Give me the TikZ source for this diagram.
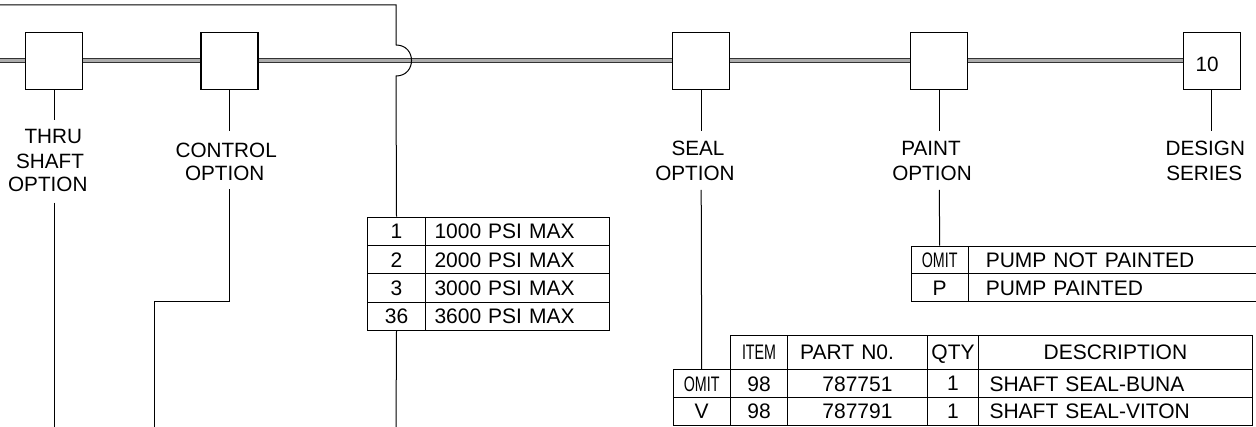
\documentclass[tikz,border=0pt]{standalone}
\usepackage{fontspec}
\setmainfont{Liberation Sans}
\usepackage{graphicx}
\newcommand\cnd[1]{\scalebox{0.68}[1]{#1}}
\begin{document}
\begin{tikzpicture}[x=1pt,y=-1pt,
  ln/.style={line width=1pt, draw=black},
  dbl/.style={draw=black!80, line width=1pt, double=gray!65, double distance=3pt},
  optbox/.style={draw, line width=1.1pt, fill=white, minimum width=57pt, minimum height=57pt, inner sep=0pt, font=\fontsize{20.7}{24}\selectfont},
  lbl/.style={inner sep=0pt, text depth=0pt, font=\fontsize{20.7}{24}\selectfont},
  cell/.style={draw, line width=1pt, anchor=north west, inner sep=0pt, text depth=0pt, font=\fontsize{21}{24}\selectfont},
  lcell/.style 2 args={cell, text width=#1, inner xsep=#2, align=left}
]
\useasboundingbox (0,0) rectangle (1256,427);

% main double line
\coordinate (dL) at (0,61);
\coordinate (dR) at (1190,61);
\draw[dbl] (dL) -- (dR);

% option boxes
\node[optbox] (bt) at (54,61) {};
\node[optbox] (bc) at (229.5,61) {};
\node[optbox] (bs) at (701.2,61) {};
\node[optbox] (bp) at (939.3,61) {};
\node[optbox] (bd) at (1211.8,61) {};
\node[lbl] (ten) at (1207,64) {10};

% labels
\node[lbl] (t1) at (53.3,136.7) {THRU};
\node[lbl] (t2) at (50,160.8) {SHAFT};
\node[lbl] (t3) at (47.8,184.7) {OPTION};
\node[lbl] (c1) at (226.2,150) {CONTROL};
\node[lbl] (c2) at (224.7,173.3) {OPTION};
\node[lbl] (s1) at (698,148.3) {SEAL};
\node[lbl] (s2) at (695,173.3) {OPTION};
\node[lbl] (p1) at (931,148.3) {PAINT};
\node[lbl] (p2) at (932,173.3) {OPTION};
\node[lbl] (d1) at (1205.3,148.3) {DESIGN};
\node[lbl] (d2) at (1204.3,173.3) {SERIES};

% PSI table
\node[cell, minimum width=58pt, minimum height=28.33pt] (k1) at (367,216.7) {1};
\node[lcell={165.5pt}{9pt}, minimum height=28.33pt] (v1) at (425,216.7) {1000 PSI MAX};
\node[cell, minimum width=58pt, minimum height=28.33pt] (k2) at (367,245.03) {2};
\node[lcell={165.5pt}{9pt}, minimum height=28.33pt] (v2) at (425,245.03) {2000 PSI MAX};
\node[cell, minimum width=58pt, minimum height=28.33pt] (k3) at (367,273.36) {3};
\node[lcell={165.5pt}{9pt}, minimum height=28.33pt] (v3) at (425,273.36) {3000 PSI MAX};
\node[cell, minimum width=58pt, minimum height=28.33pt] (k4) at (367,301.69) {36};
\node[lcell={165.5pt}{9pt}, minimum height=28.33pt] (v4) at (425,301.69) {3600 PSI MAX};

% paint table
\node[cell, minimum width=57pt, minimum height=27.8pt] (pk1) at (910.7,245.7) {\cnd{OMIT}};
\node[lcell={259.1pt}{17.6pt}, minimum height=27.8pt] (pv1) at (967.7,245.7) {PUMP NOT PAINTED};
\node[cell, minimum width=57pt, minimum height=27.8pt] (pk2) at (910.7,273.5) {P};
\node[lcell={259.1pt}{17.6pt}, minimum height=27.8pt] (pv2) at (967.7,273.5) {PUMP PAINTED};

% seal table
\node[cell, minimum width=57.7pt, minimum height=34.7pt] (hI) at (729.7,334.7) {\cnd{ITEM}};
\node[lcell={115.4pt}{12.3pt}, minimum height=34.7pt] (hP) at (787.4,334.7) {PART N0.};
\node[cell, minimum width=51.6pt, minimum height=34.7pt] (hQ) at (926.7,334.7) {QTY};
\node[cell, minimum width=273.3pt, minimum height=34.7pt] (hD) at (978.3,334.7) {DESCRIPTION};

\node[cell, minimum width=57pt, minimum height=27.6pt] (so) at (672.7,369.4) {\cnd{OMIT}};
\node[cell, minimum width=57.7pt, minimum height=27.6pt] (r1i) at (729.7,369.4) {98};
\node[lcell={70.3pt}{34.5pt}, minimum height=27.6pt] (r1p) at (787.4,369.4) {787751};
\node[cell, minimum width=51.6pt, minimum height=27.6pt] (r1q) at (926.7,369.4) {1};
\node[lcell={251.9pt}{10.7pt}, minimum height=27.6pt] (r1d) at (978.3,369.4) {SHAFT SEAL-BUNA};

\node[cell, minimum width=57pt, minimum height=27.8pt] (sv) at (672.7,397) {V};
\node[cell, minimum width=57.7pt, minimum height=27.8pt] (r2i) at (729.7,397) {98};
\node[lcell={70.3pt}{34.5pt}, minimum height=27.8pt] (r2p) at (787.4,397) {787791};
\node[cell, minimum width=51.6pt, minimum height=27.8pt] (r2q) at (926.7,397) {1};
\node[lcell={251.9pt}{10.7pt}, minimum height=27.8pt] (r2d) at (978.3,397) {SHAFT SEAL-VITON};

% connector coordinates
\coordinate (tA) at (54,120);
\coordinate (tB) at (54,202.7);
\coordinate (tC) at (54,427);
\coordinate (cA) at (229.5,131);
\coordinate (cB) at (229.5,189.3);
\coordinate (cC) at (229.5,302);
\coordinate (cD) at (154,302);
\coordinate (cE) at (154,427);
\coordinate (sA) at (701.2,131);
\coordinate (sB) at (701.2,190);
\coordinate (pA) at (939.3,131);
\coordinate (pB) at (939.3,190);
\coordinate (dA) at (1211.8,131);
\coordinate (fA) at (0,5);
\coordinate (fB) at (396,5);
\coordinate (fC) at (396,45);
\coordinate (fD) at (396,76);
\coordinate (fE) at (396,427);

% connectors
\draw[ln] (bt.south) -- (tA);
\draw[ln] (tB) -- (tC);
\draw[ln] (bc.south) -- (cA);
\draw[ln] (cB) -- (cC) -- (cD) -- (cE);
\draw[ln] (bs.south) -- (sA);
\draw[ln] (sB) -- (so.north);
\draw[ln] (bp.south) -- (pA);
\draw[ln] (pB) -- (pk1.north);
\draw[ln] (bd.south) -- (dA);
\draw[ln] (fA) -- (fB) -- (fC) .. controls (416.7,45) and (416.7,76) .. (fD) -- (k1.north);
\draw[ln] (k4.south) -- (fE);
\end{tikzpicture}
\end{document}
